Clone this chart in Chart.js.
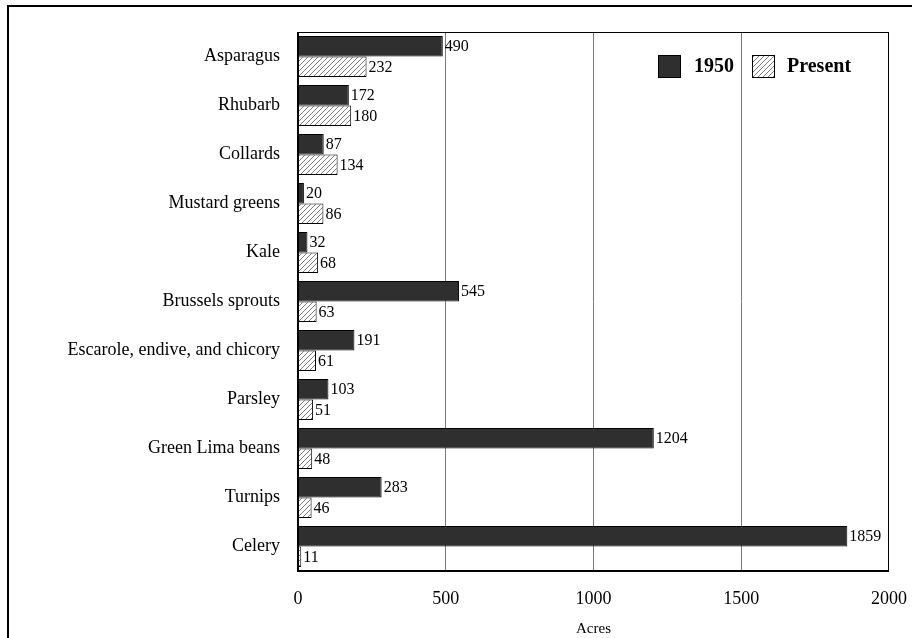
<!doctype html>
<html lang="en">
<head>
  <meta charset="utf-8" />
  <title>Vegetable acreage, 1950 and present</title>
  <script src="https://cdn.jsdelivr.net/npm/chart.js@4.4.1/dist/chart.umd.min.js"></script>
  <style>
    body {
      margin: 0;
      padding: 0;
      background: #fff;
    }

    .frame {
      position: relative;
      width: 912px;
      height: 638px;
      overflow: hidden;
    }

    /* outer border, only top and left show in the reference */
    .frame .edge {
      position: absolute;
      left: 7px;
      top: 5px;
      width: 920px;
      height: 650px;
      border-top: 2px solid #000;
      border-left: 2px solid #000;
      pointer-events: none;
    }
  </style>
</head>
<body>
  <div class="frame">
    <canvas id="acres" width="912" height="638"></canvas>
    <div class="edge"></div>
  </div>

  <script>
    // Crops and acres
    const crops = [
      "Asparagus", "Rhubarb", "Collards", "Mustard greens", "Kale",
      "Brussels sprouts", "Escarole, endive, and chicory", "Parsley",
      "Green Lima beans", "Turnips", "Celery"
    ];
    const acres1950 = [490, 172, 87, 20, 32, 545, 191, 103, 1204, 283, 1859];
    const acresPresent = [232, 180, 134, 86, 68, 63, 61, 51, 48, 46, 11];
    const xTicks = [0, 500, 1000, 1500, 2000];

    const serif = "'Liberation Serif', 'Times New Roman', serif";

    // diagonal hatch for the "Present" bars
    function makeHatch() {
      const c = document.createElement("canvas");
      c.width = 5;
      c.height = 5;
      const g = c.getContext("2d");
      g.fillStyle = "#fff";
      g.fillRect(0, 0, 5, 5);
      g.strokeStyle = "#5a5a5a";
      g.lineWidth = 0.8;
      g.beginPath();
      g.moveTo(0, 5); g.lineTo(5, 0);
      g.moveTo(-1, 1); g.lineTo(1, -1);
      g.moveTo(4, 6); g.lineTo(6, 4);
      g.stroke();
      return g.createPattern(c, "repeat");
    }
    const hatch = makeHatch();

    // value labels at the end of each bar
    const valueLabels = {
      id: "valueLabels",
      afterDatasetsDraw(chart) {
        const ctx = chart.ctx;
        ctx.save();
        ctx.font = "16px " + serif;
        ctx.fillStyle = "#000";
        ctx.textAlign = "left";
        ctx.textBaseline = "middle";
        chart.data.datasets.forEach((ds, i) => {
          chart.getDatasetMeta(i).data.forEach((bar, j) => {
            ctx.fillText(ds.data[j], bar.x + 2, bar.y + 1);
          });
        });
        ctx.restore();
      }
    };

    // black frame round the plot, heavier on the axes
    const plotFrame = {
      id: "plotFrame",
      afterDatasetsDraw(chart) {
        const { left, right, top, bottom } = chart.chartArea;
        const ctx = chart.ctx;
        ctx.save();
        ctx.strokeStyle = "#000";
        ctx.lineWidth = 1;
        ctx.strokeRect(left + 0.5, top + 0.5, right - left - 1, bottom - top - 1);
        ctx.lineWidth = 2;
        ctx.beginPath();
        ctx.moveTo(left, top);
        ctx.lineTo(left, bottom);
        ctx.lineTo(right, bottom);
        ctx.stroke();
        ctx.restore();
      }
    };

    // legend inside the plot, top right
    const boxLegend = {
      id: "boxLegend",
      afterDraw(chart) {
        const ctx = chart.ctx;
        const y = 55;
        const items = [
          { x: 658, textX: 694, ds: chart.data.datasets[0] },
          { x: 752, textX: 787, ds: chart.data.datasets[1] }
        ];
        ctx.save();
        ctx.font = "bold 20px " + serif;
        ctx.textBaseline = "middle";
        ctx.textAlign = "left";
        items.forEach(it => {
          ctx.fillStyle = it.ds.backgroundColor;
          ctx.fillRect(it.x, y, 23, 23);
          ctx.strokeStyle = "#000";
          ctx.lineWidth = 1;
          ctx.strokeRect(it.x + 0.5, y + 0.5, 22, 22);
          ctx.fillStyle = "#000";
          ctx.fillText(it.ds.label, it.textX, y + 12);
        });
        ctx.restore();
      }
    };

    new Chart(document.getElementById("acres"), {
      type: "bar",
      data: {
        labels: crops,
        datasets: [
          {
            label: "1950",
            data: acres1950,
            backgroundColor: "#2f2f2f",
            borderColor: "#000",
            borderWidth: 1
          },
          {
            label: "Present",
            data: acresPresent,
            backgroundColor: hatch,
            borderColor: "#000",
            borderWidth: 1
          }
        ]
      },
      plugins: [valueLabels, plotFrame, boxLegend],
      options: {
        indexAxis: "y",
        responsive: false,
        animation: false,
        devicePixelRatio: 1,
        layout: { padding: { top: 32, right: 23, left: 0, bottom: 0 } },
        datasets: {
          bar: { categoryPercentage: 0.84, barPercentage: 1.0 }
        },
        plugins: {
          legend: { display: false },
          tooltip: { enabled: false }
        },
        scales: {
          x: {
            min: 0,
            max: 2000,
            afterBuildTicks: scale => {
              scale.ticks = xTicks.map(v => ({ value: v }));
            },
            afterFit: scale => {
              scale.height = 67;
              scale.paddingLeft = 0;
              scale.paddingRight = 0;
            },
            grid: {
              drawTicks: false,
              color: ctx => (ctx.tick && (ctx.tick.value === 0 || ctx.tick.value === 2000)) ? "rgba(0,0,0,0)" : "#7a7a7a",
              lineWidth: 1
            },
            border: { display: false },
            ticks: {
              padding: 17,
              maxRotation: 0,
              color: "#000",
              font: { family: serif, size: 18 },
              callback: v => String(v)
            },
            title: {
              display: true,
              text: "Acres",
              color: "#000",
              font: { family: serif, size: 15 },
              padding: { top: 0, bottom: 0 }
            }
          },
          y: {
            afterFit: scale => { scale.width = 298; },
            grid: { display: false, drawTicks: false },
            border: { display: false },
            ticks: {
              padding: 18,
              color: "#000",
              font: { family: serif, size: 18 }
            }
          }
        }
      }
    });
  </script>
</body>
</html>
